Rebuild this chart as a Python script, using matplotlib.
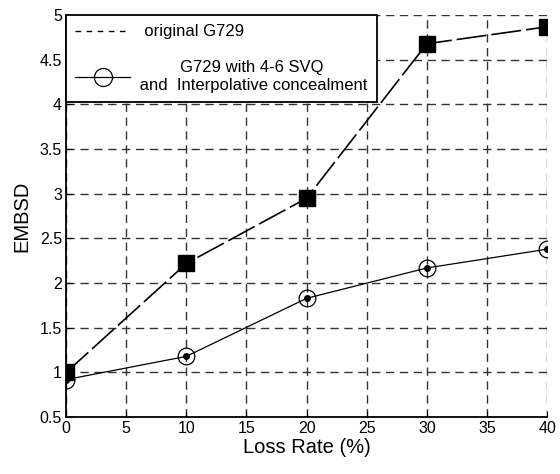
import matplotlib
matplotlib.use('Agg')
from matplotlib import pyplot as plt
from matplotlib.lines import Line2D

loss_rate = [0, 10, 20, 30, 40]
embsd_original = [1.00, 2.22, 2.95, 4.68, 4.87]
embsd_svq = [0.92, 1.18, 1.83, 2.17, 2.38]
x_ticks = [0, 5, 10, 15, 20, 25, 30, 35, 40]
y_ticks = [0.5, 1, 1.5, 2, 2.5, 3, 3.5, 4, 4.5, 5]
y_tick_labels = ['0.5', '1', '1.5', '2', '2.5', '3', '3.5', '4', '4.5', '5']

plt.rcParams['font.family'] = ['Liberation Sans', 'DejaVu Sans']

fig = plt.figure(figsize=(5.6, 4.74), dpi=100)
ax = fig.add_axes([0.118, 0.12, 0.859, 0.848])

ax.plot(loss_rate, embsd_original, color='k', linestyle=(0, (18, 3)), lw=1.2, zorder=3)
ax.plot(loss_rate, embsd_original, 's', color='k', ms=12, zorder=4)
ax.plot(loss_rate, embsd_svq, color='k', lw=0.9, marker='o', ms=12,
        mfc='none', mec='k', mew=0.9, zorder=3)
ax.plot(loss_rate, embsd_svq, '.', color='k', ms=8, zorder=4)

ax.set_xlim(0, 40)
ax.set_ylim(0.5, 5)
ax.set_xticks(x_ticks)
ax.set_yticks(y_ticks)
ax.set_yticklabels(y_tick_labels)
ax.tick_params(direction='in', labelsize=11.5, length=4, colors='k', pad=3)
ax.grid(True, color='#333333', linestyle=(0, (6, 4)), lw=1.0)
for side in ['top', 'right']:
    ax.spines[side].set_visible(False)
for side in ['left', 'bottom']:
    ax.spines[side].set_linewidth(1.3)

ax.set_xlabel('Loss Rate (%)', fontsize=14.5, labelpad=1)
ax.set_ylabel('EMBSD', fontsize=14.5, labelpad=6)

leg_handles = [
    Line2D([], [], color='k', linestyle=(0, (4, 4)), lw=1.0),
    Line2D([], [], color='k', lw=0.9, marker='o', ms=13, mfc='none', mec='k', mew=0.9),
]
leg_labels = ['  original G729', 'G729 with 4-6 SVQ\n and  Interpolative concealment']
leg = ax.legend(leg_handles, leg_labels, loc='upper left',
                fontsize=12, frameon=True, fancybox=False, framealpha=1,
                edgecolor='k', borderaxespad=0, handlelength=3.3,
                handletextpad=0.3, borderpad=0.55, labelspacing=1.25)
leg.get_frame().set_linewidth(1.3)
leg.set_zorder(2.5)
for t in leg.get_texts():
    t.set_multialignment('center')

fig.savefig('out.png', dpi=100)
